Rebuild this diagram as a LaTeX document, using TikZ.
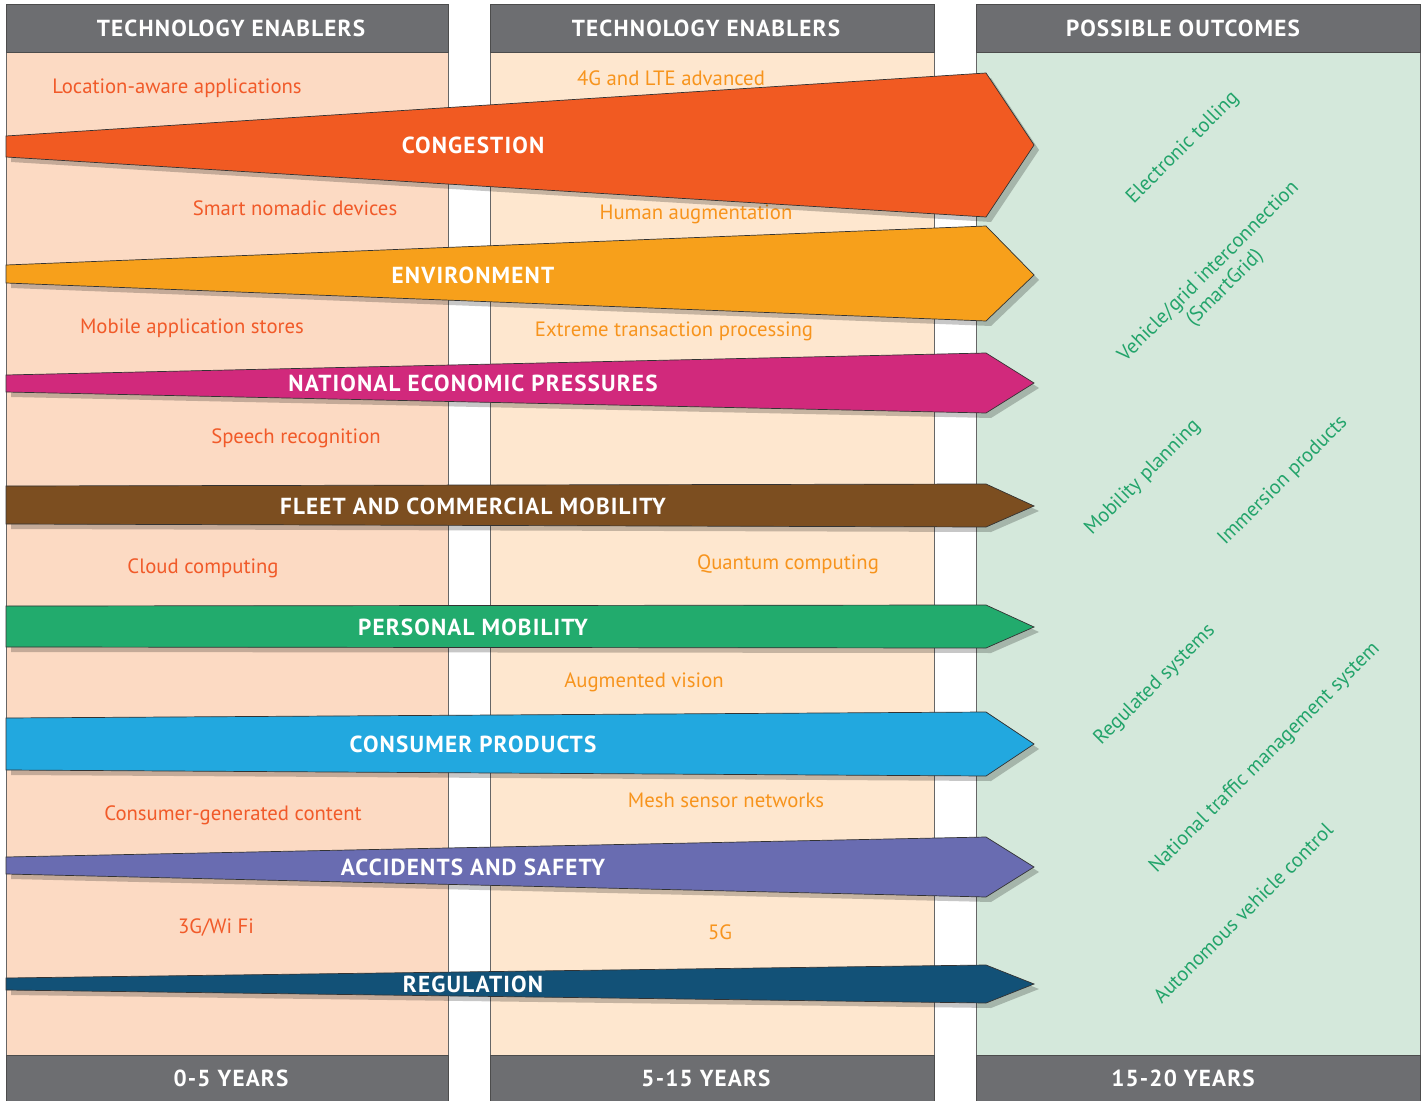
\documentclass[tikz,border=0pt]{standalone}
\usepackage{fontspec}
\setmainfont{PT Sans}
\usepackage{xcolor}
\definecolor{bandgray}{HTML}{6D6E71}
\definecolor{nearbody}{HTML}{FCDAC3}
\definecolor{midbody}{HTML}{FEE7CF}
\definecolor{farbody}{HTML}{D4E8DB}
\definecolor{neartext}{HTML}{F15A29}
\definecolor{midtext}{HTML}{F7941D}
\definecolor{fartext}{HTML}{23A46B}
\definecolor{congestion}{HTML}{F15A22}
\definecolor{environment}{HTML}{F7A01B}
\definecolor{economic}{HTML}{D1297C}
\definecolor{fleet}{HTML}{7C4E20}
\definecolor{personal}{HTML}{22AB6D}
\definecolor{consumer}{HTML}{22A8DF}
\definecolor{accidents}{HTML}{696CB1}
\definecolor{regulation}{HTML}{125177}

\begin{document}
\begin{tikzpicture}[x=0.02cm, y=-0.02cm]
    \tikzstyle{band} = [fill=bandgray, draw=black!70, line width=0.4pt]
    \tikzstyle{bandlabel} = [text=white, font=\fontsize{13.2}{15}\selectfont\bfseries\addfontfeature{LetterSpace=5}]
    \tikzstyle{body} = [draw=black!60, line width=0.4pt]
    \tikzstyle{enabler} = [font=\fontsize{11.8}{14}\selectfont]
    \tikzstyle{outcome} = [text=fartext, font=\fontsize{11.6}{13}\selectfont, rotate=45, align=center]
    \tikzstyle{trend} = [draw=black!80, line width=0.4pt]
    \tikzstyle{trendshadow} = [fill=black, opacity=0.22]
    \tikzstyle{trendlabel} = [text=white, font=\fontsize{13.2}{15}\selectfont\bfseries\addfontfeature{LetterSpace=5}]

    \useasboundingbox (0,0) rectangle (1423,1101);

    % columns
    \filldraw[body, fill=nearbody] (6,52) rectangle (448,1055);
    \filldraw[body, fill=midbody] (490,52) rectangle (934,1055);
    \filldraw[body, fill=farbody] (976,52) rectangle (1420,1055);
    \foreach \xa/\xb in {6/448, 490/934, 976/1420} {
        \filldraw[band] (\xa,4) rectangle (\xb,52);
        \filldraw[band] (\xa,1055) rectangle (\xb,1103);
    }
    \node[bandlabel] (head1) at (231,28) {TECHNOLOGY ENABLERS};
    \node[bandlabel] (head2) at (706,28) {TECHNOLOGY ENABLERS};
    \node[bandlabel] (head3) at (1183,28) {POSSIBLE OUTCOMES};
    \node[bandlabel] (foot1) at (231,1078) {0-5 YEARS};
    \node[bandlabel] (foot2) at (706,1078) {5-15 YEARS};
    \node[bandlabel] (foot3) at (1183,1078) {15-20 YEARS};

    % enablers 0-5 years
    \node[enabler, text=neartext] (location) at (177,88) {Location-aware applications};
    \node[enabler, text=neartext] (nomadic) at (295,208) {Smart nomadic devices};
    \node[enabler, text=neartext] (appstores) at (192,328) {Mobile application stores};
    \node[enabler, text=neartext] (speech) at (296,438) {Speech recognition};
    \node[enabler, text=neartext] (cloud) at (203,568) {Cloud computing};
    \node[enabler, text=neartext] (usercontent) at (233,815) {Consumer-generated content};
    \node[enabler, text=neartext] (wifi) at (216,928) {3G/Wi Fi};

    % enablers 5-15 years
    \node[enabler, text=midtext] (lte) at (671,78) {4G and LTE advanced};
    \node[enabler, text=midtext] (augment) at (696,214) {Human augmentation};
    \node[enabler, text=midtext] (transaction) at (674,331) {Extreme transaction processing};
    \node[enabler, text=midtext] (quantum) at (788,564) {Quantum computing};
    \node[enabler, text=midtext] (vision) at (644,682) {Augmented vision};
    \node[enabler, text=midtext] (mesh) at (726,800) {Mesh sensor networks};
    \node[enabler, text=midtext] (fiveg) at (720,932) {5G};

    % trends
    \foreach \lt/\lb/\rt/\rb/\tip/\col/\name/\lab in {
        136/157/73/217/145/congestion/congestion/CONGESTION,
        265/283/226/321/275/environment/environment/ENVIRONMENT,
        375/392/353/413/383/economic/economic/NATIONAL ECONOMIC PRESSURES,
        486/524/484/527/506/fleet/fleet/FLEET AND COMMERCIAL MOBILITY,
        606/647/605/648/627/personal/personal/PERSONAL MOBILITY,
        718/770/712/776/744/consumer/consumer/CONSUMER PRODUCTS,
        857/874/837/897/867/accidents/accidents/ACCIDENTS AND SAFETY,
        978/990/965/1003/984/regulation/regulation/REGULATION} {
        \fill[trendshadow] (11,\lt+5) -- (991,\rt+5) -- (1039,\tip+5) -- (991,\rb+5) -- (11,\lb+5) -- cycle;
        \filldraw[trend, fill=\col] (6,\lt) -- (986,\rt) -- (1034,\tip) -- (986,\rb) -- (6,\lb) -- cycle;
        \node[trendlabel] (\name) at (473,\tip) {\lab};
    }

    % outcomes
    \node[outcome] (tolling) at (1183,148) {Electronic tolling};
    \node[outcome] (smartgrid) at (1217,280) {Vehicle/grid interconnection\\(SmartGrid)};
    \node[outcome] (planning) at (1143,478) {Mobility planning};
    \node[outcome] (immersion) at (1283,481) {Immersion products};
    \node[outcome] (regulated) at (1155,685) {Regulated systems};
    \node[outcome] (traffic) at (1265,758) {National traffic management system};
    \node[outcome] (autonomous) at (1243,913) {Autonomous vehicle control};
\end{tikzpicture}
\end{document}
